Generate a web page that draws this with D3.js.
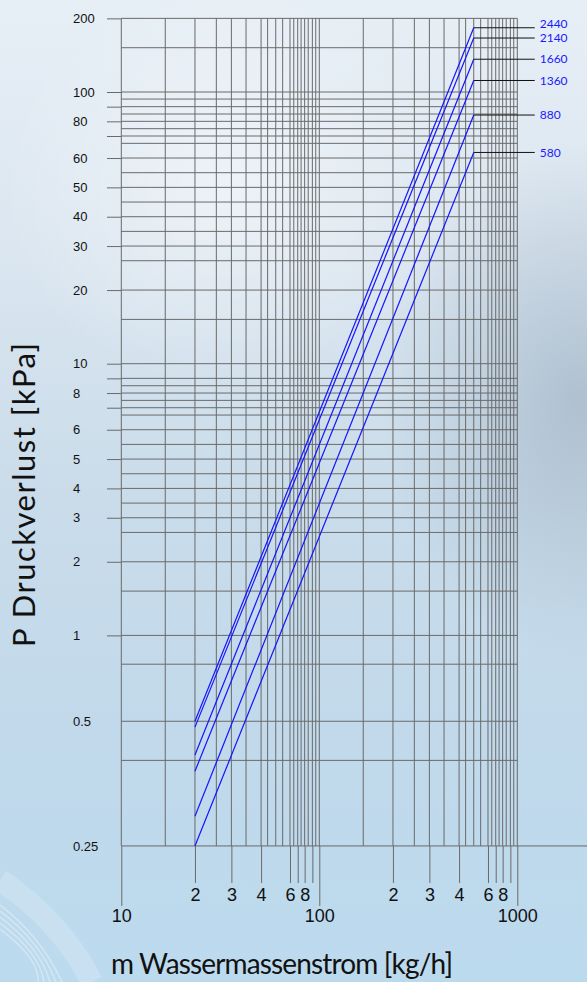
<!DOCTYPE html>
<html>
<head>
<meta charset="utf-8">
<script src="https://cdn.jsdelivr.net/npm/d3@7"></script>
<style>
  html, body { margin: 0; padding: 0; background: #d3e2ee; }
  svg { display: block; font-family: Lato, "Liberation Sans", sans-serif; }
</style>
</head>
<body>
<div id="chart"></div>
<script>
// curve names and the readings at both ends of each curve
var curveNames = ["2440", "2140", "1660", "1360", "880", "580"];
var flowRange = [20, 500];                                  // kg/h
var dpAtStart = [0.5, 0.485, 0.414, 0.381, 0.302, 0.25];    // kPa at 20 kg/h
var dpAtEnd = [184, 166.5, 137, 113, 84.3, 61.9];           // kPa at 500 kg/h

// tick labels
var xMinorTicks = [20, 30, 40, 60, 70, 80, 90, 200, 300, 400, 600, 700, 800, 900];
var xMinorLabels = {20: "2", 30: "3", 40: "4", 60: "6", 80: "8", 200: "2", 300: "3", 400: "4", 600: "6", 800: "8"};
var xMajorTicks = [10, 100, 1000];
var yLongTicks = [1, 2, 3, 4, 5, 6, 7, 8, 9, 10, 20, 30, 40, 50, 60, 70, 80, 90, 100, 200];
var yLabels = [200, 100, 80, 60, 50, 40, 30, 20, 10, 8, 6, 5, 4, 3, 2, 1, 0.5, 0.25];
var yShortLabels = [0.5, 0.25];

// grid steps inside one decade
var gridSteps = [1, 1.5, 2, 2.5, 3, 3.5, 4, 4.5, 5, 5.5, 6, 6.5, 7, 7.5, 8, 8.5, 9, 9.5];
var subOneSteps = [0.25, 0.4, 0.5, 0.75];

// the printed grid is hand spaced, so each step sits at its own share of a decade
var xStepPos = [0, .222, .372, .480, .556, .630, .706, .739, .780, .815, .852, .871, .891, .908, .926, .944, .965, .982];
var yStepPos = [0, .163, .271, .379, .433, .487, .541, .595, .649, .703, .757, .811, .838, .865, .892, .919, .946, .974];
var subOnePos = [-.775, -.46, -.316, -.106];

var width = 587, height = 982;
var x10 = 121.3, xDec = 198;   // where 10 kg/h sits, width of a decade
var y1 = 635.4, yDec = 271.7;  // where 1 kPa sits, height of a decade

// build the grid values and their positions
var xGrid = [];
[10, 100].forEach(function(d) {
    gridSteps.forEach(function(m, i) {
        xGrid.push({v: d * m, p: x10 + (Math.log10(d) - 1 + xStepPos[i]) * xDec});
    });
});
xGrid.push({v: 1000, p: x10 + 2 * xDec});

var yGrid = [];
subOneSteps.forEach(function(v, i) {
    yGrid.push({v: v, p: y1 - subOnePos[i] * yDec});
});
[1, 10, 100].forEach(function(d) {
    gridSteps.forEach(function(m, i) {
        if (d === 1 && m === 9.5) return;
        if (d === 100 && m > 2) return;
        yGrid.push({v: d * m, p: y1 - (Math.log10(d) + yStepPos[i]) * yDec});
    });
});

var x = d3.scaleLinear()
    .domain(xGrid.map(function(d) { return d.v; }))
    .range(xGrid.map(function(d) { return d.p; }));
var y = d3.scaleLinear()
    .domain(yGrid.map(function(d) { return d.v; }))
    .range(yGrid.map(function(d) { return d.p; }));

var svg = d3.select("#chart")
  .append("svg")
    .attr("width", width)
    .attr("height", height);

// background
var defs = svg.append("defs");
var bg = defs.append("linearGradient").attr("id", "bg")
    .attr("x1", 0).attr("y1", 0).attr("x2", 0).attr("y2", 1);
[[0, "#e7eff6"], [0.25, "#dbe6f0"], [0.5, "#cadcea"], [0.75, "#c1d9eb"], [1, "#bcdaee"]].forEach(function(s) {
    bg.append("stop").attr("offset", s[0]).attr("stop-color", s[1]);
});
var shade = defs.append("radialGradient").attr("id", "shade");
shade.append("stop").attr("offset", 0).attr("stop-color", "#9db0c2").attr("stop-opacity", 0.65);
shade.append("stop").attr("offset", 1).attr("stop-color", "#9db0c2").attr("stop-opacity", 0);
var glow = defs.append("radialGradient").attr("id", "glow");
glow.append("stop").attr("offset", 0).attr("stop-color", "#ffffff").attr("stop-opacity", 0.45);
glow.append("stop").attr("offset", 1).attr("stop-color", "#ffffff").attr("stop-opacity", 0);

svg.append("rect").attr("width", width).attr("height", height).attr("fill", "url(#bg)");
svg.append("ellipse").attr("cx", 580).attr("cy", 400).attr("rx", 200).attr("ry", 260).attr("fill", "url(#shade)");
svg.append("ellipse").attr("cx", 230).attr("cy", 190).attr("rx", 230).attr("ry", 200).attr("fill", "url(#glow)");

// swoosh in the lower left corner
var swoosh = svg.append("g").attr("fill", "none").attr("stroke", "#ffffff");
swoosh.append("path").attr("d", "M0,880 Q60,920 92,982").attr("stroke-width", 22).attr("stroke-opacity", 0.18);
[0, 6, 12, 18, 24].forEach(function(o) {
    swoosh.append("path")
        .attr("d", "M0," + (905 + o) + " Q40," + (935 + o) + " " + (62 - o) + ",982")
        .attr("stroke-width", 1.5).attr("stroke-opacity", 0.35);
});

var gridColor = "#6a6a6a";

// vertical grid
svg.append("g").selectAll("line")
    .data(xGrid)
    .join("line")
    .attr("x1", function(d) { return x(d.v); })
    .attr("x2", function(d) { return x(d.v); })
    .attr("y1", y(200))
    .attr("y2", y(0.25))
    .attr("stroke", gridColor)
    .attr("stroke-width", 1);

// horizontal grid
svg.append("g").selectAll("line")
    .data(yGrid)
    .join("line")
    .attr("x1", x(10))
    .attr("x2", function(d) { return d.v === 0.25 ? width : x(1000); })
    .attr("y1", function(d) { return y(d.v); })
    .attr("y2", function(d) { return y(d.v); })
    .attr("stroke", gridColor)
    .attr("stroke-width", 1);

function styleAxis(g, size) {
    g.select(".domain").remove();
    g.selectAll(".tick line").attr("stroke", gridColor).attr("stroke-width", 1);
    g.selectAll(".tick text").attr("fill", "#111").style("font-size", size + "px");
}

// x axis: short ticks for 2..9, long ones for the decades
svg.append("g")
    .attr("transform", "translate(0," + y(0.25) + ")")
    .call(d3.axisBottom(x).tickValues(xMinorTicks).tickSize(37).tickPadding(5)
        .tickFormat(function(v) { return xMinorLabels[v] || ""; }))
    .call(styleAxis, 18);
svg.append("g")
    .attr("transform", "translate(0," + y(0.25) + ")")
    .call(d3.axisBottom(x).tickValues(xMajorTicks).tickSize(60).tickPadding(3)
        .tickFormat(d3.format("d")))
    .call(styleAxis, 18);

// y axis, labels sit left aligned
var yFmt = function(v) { return yLabels.indexOf(v) >= 0 ? String(v) : ""; };
var yAxisLong = svg.append("g")
    .attr("transform", "translate(" + x(10) + ",0)")
    .call(d3.axisLeft(y).tickValues(yLongTicks).tickSize(14.3).tickFormat(yFmt))
    .call(styleAxis, 13);
var yAxisShort = svg.append("g")
    .attr("transform", "translate(" + x(10) + ",0)")
    .call(d3.axisLeft(y).tickValues(yShortLabels).tickSize(0).tickFormat(yFmt))
    .call(styleAxis, 13);
[yAxisLong, yAxisShort].forEach(function(g) {
    g.selectAll(".tick text")
        .attr("text-anchor", "start")
        .attr("x", 73 - x(10));
});

// curves
var curves = curveNames.map(function(name, i) {
    return {name: name, pts: [[flowRange[0], dpAtStart[i]], [flowRange[1], dpAtEnd[i]]]};
});
var line = d3.line()
    .x(function(d) { return x(d[0]); })
    .y(function(d) { return y(d[1]); });

svg.append("g").selectAll("path")
    .data(curves)
    .join("path")
    .attr("d", function(d) { return line(d.pts); })
    .attr("fill", "none")
    .attr("stroke", "#1414ff")
    .attr("stroke-width", 1.2);

// names get a little room when two ends are close together (top to bottom)
var labelGap = 14.5;
curves.forEach(function(d) { d.ly = y(d.pts[1][1]); });
for (var i = curves.length - 2; i >= 0; i--) {
    if (curves[i + 1].ly - curves[i].ly < labelGap) {
        curves[i].ly = curves[i + 1].ly - labelGap;
    }
}

// leader lines and names
var tags = svg.append("g").selectAll("g")
    .data(curves)
    .join("g")
    .attr("transform", function(d) { return "translate(" + x(flowRange[1]) + "," + y(d.pts[1][1]) + ")"; });
tags.append("line")
    .attr("x1", 0).attr("x2", 61)
    .attr("stroke", "#111").attr("stroke-width", 1);
tags.append("text")
    .attr("x", 66)
    .attr("y", function(d) { return d.ly - y(d.pts[1][1]); })
    .attr("dy", "0.35em")
    .attr("fill", "#1a1aff")
    .style("font-size", "12px")
    .text(function(d) { return d.name; });

// axis titles
svg.append("text")
    .attr("x", 111).attr("y", 974)
    .attr("textLength", 342)
    .style("font-size", "28px")
    .attr("fill", "#111")
    .text("m Wassermassenstrom [kg/h]");
svg.append("text")
    .attr("transform", "translate(35,647) rotate(-90)")
    .attr("textLength", 304)
    .style("font-size", "31px")
    .attr("fill", "#111")
    .text("P Druckverlust [kPa]");
</script>
</body>
</html>
